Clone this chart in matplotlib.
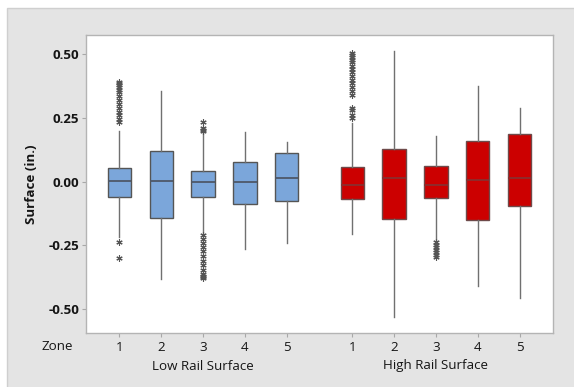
import matplotlib
matplotlib.use("Agg")
import matplotlib.pyplot as plt
from matplotlib.patches import Rectangle
import matplotlib.transforms as mtransforms

plt.rcParams['font.family'] = ['Open Sans', 'DejaVu Sans']

# ---- data ----
zones = ["1", "2", "3", "4", "5"]
groups = ["Low Rail Surface", "High Rail Surface"]

low_q1 = [-0.059, -0.141, -0.059, -0.089, -0.075]
low_med = [0.004, 0.004, 0.000, 0.000, 0.013]
low_q3 = [0.052, 0.120, 0.043, 0.078, 0.111]
low_whislo = [-0.216, -0.383, -0.205, -0.264, -0.239]
low_whishi = [0.200, 0.356, 0.190, 0.196, 0.157]
low_fliers = [
    [0.392, 0.385, 0.378, 0.37, 0.36, 0.35, 0.335, 0.32, 0.305, 0.29, 0.275, 0.26, 0.245, 0.232, -0.238, -0.298],
    [],
    [0.235, 0.21, 0.203, 0.197, -0.209, -0.225, -0.24, -0.255, -0.27, -0.29, -0.31, -0.325, -0.345, -0.36, -0.368, -0.375, -0.379],
    [],
    [],
]

high_q1 = [-0.069, -0.146, -0.064, -0.150, -0.095]
high_med = [-0.013, 0.013, -0.013, 0.005, 0.016]
high_q3 = [0.056, 0.127, 0.063, 0.160, 0.187]
high_whislo = [-0.205, -0.529, -0.229, -0.409, -0.455]
high_whishi = [0.231, 0.514, 0.179, 0.375, 0.290]
high_fliers = [
    [0.503, 0.495, 0.487, 0.478, 0.468, 0.455, 0.44, 0.43, 0.415, 0.40, 0.385, 0.37, 0.355, 0.34, 0.29, 0.28, 0.26, 0.248],
    [],
    [-0.237, -0.247, -0.257, -0.267, -0.277, -0.287, -0.297],
    [],
    [],
]

yticks = [-0.50, -0.25, 0.00, 0.25, 0.50]

# ---- figure ----
W, H = 574, 387
FS = 9.6
TXT = '#151515'
fig = plt.figure(figsize=(W / 100, H / 100), dpi=100, facecolor='white')
bg = Rectangle((7 / W, -0.1), 1.2, 1.1 - 8 / H, transform=fig.transFigure,
               facecolor='#E4E4E4', edgecolor='#CFCFCF', linewidth=1.0, zorder=-10)
fig.patches.append(bg)

ax = fig.add_axes([86 / W, 1 - 332.7 / H, (552.7 - 86) / W, (332.7 - 35) / H])
ax.set_zorder(1)
ax.set_facecolor('white')

gap = 1.567
low_pos = [i + 1 for i in range(len(zones))]
high_pos = [i + 1 + len(zones) + gap - 1 for i in range(len(zones))]


def stats(q1, med, q3, lo, hi, fl):
    return [dict(q1=a, med=b, q3=c, whislo=d, whishi=e, fliers=f)
            for a, b, c, d, e, f in zip(q1, med, q3, lo, hi, fl)]


flier_style = dict(marker=(6, 2, 0), markersize=4.5, markeredgecolor='#555555',
                   markerfacecolor='none', markeredgewidth=0.8, linestyle='none')

ax.bxp(stats(low_q1, low_med, low_q3, low_whislo, low_whishi, low_fliers),
       positions=low_pos, widths=0.557, patch_artist=True, showcaps=False,
       boxprops=dict(facecolor='#7BA6DA', edgecolor='#555555', linewidth=1.0),
       medianprops=dict(color='#4E5868', linewidth=1.3),
       whiskerprops=dict(color='#707070', linewidth=1.0),
       flierprops=flier_style, manage_ticks=False)

ax.bxp(stats(high_q1, high_med, high_q3, high_whislo, high_whishi, high_fliers),
       positions=high_pos, widths=0.557, patch_artist=True, showcaps=False,
       boxprops=dict(facecolor='#CC0000', edgecolor='#6E4A4A', linewidth=1.0),
       medianprops=dict(color='#8A2E2E', linewidth=1.3),
       whiskerprops=dict(color='#707070', linewidth=1.0),
       flierprops=flier_style, manage_ticks=False)

ax.set_xlim(0.204, 11.356)
ax.set_ylim(-0.592, 0.575)
ax.set_xticks(low_pos + high_pos)
ax.set_xticklabels(zones + zones)
ax.set_yticks(yticks)
ax.set_yticklabels([f"{v:.2f}" for v in yticks], fontweight='bold')

for s in ax.spines.values():
    s.set_color('#B4B4B4')
    s.set_linewidth(1.0)
ax.tick_params(axis='both', length=3, width=0.8, color='#A8A8A8',
               labelsize=FS, labelcolor=TXT, pad=2)
ax.tick_params(axis='x', pad=3)

ax.set_ylabel("Surface (in.)", fontsize=FS, fontweight='bold', color=TXT, labelpad=7)

trans = mtransforms.blended_transform_factory(ax.transData, fig.transFigure)
ax.text(sum(low_pos) / len(low_pos), 1 - 366 / H, groups[0], transform=trans,
        ha='center', va='center', fontsize=FS, color=TXT, clip_on=False)
ax.text(sum(high_pos) / len(high_pos), 1 - 366 / H, groups[1], transform=trans,
        ha='center', va='center', fontsize=FS, color=TXT, clip_on=False)
fig.text(57 / W, 1 - 346 / H, "Zone", ha='center', va='center',
         fontsize=FS, color=TXT)

fig.savefig("out.png", dpi=100, facecolor=fig.get_facecolor())
